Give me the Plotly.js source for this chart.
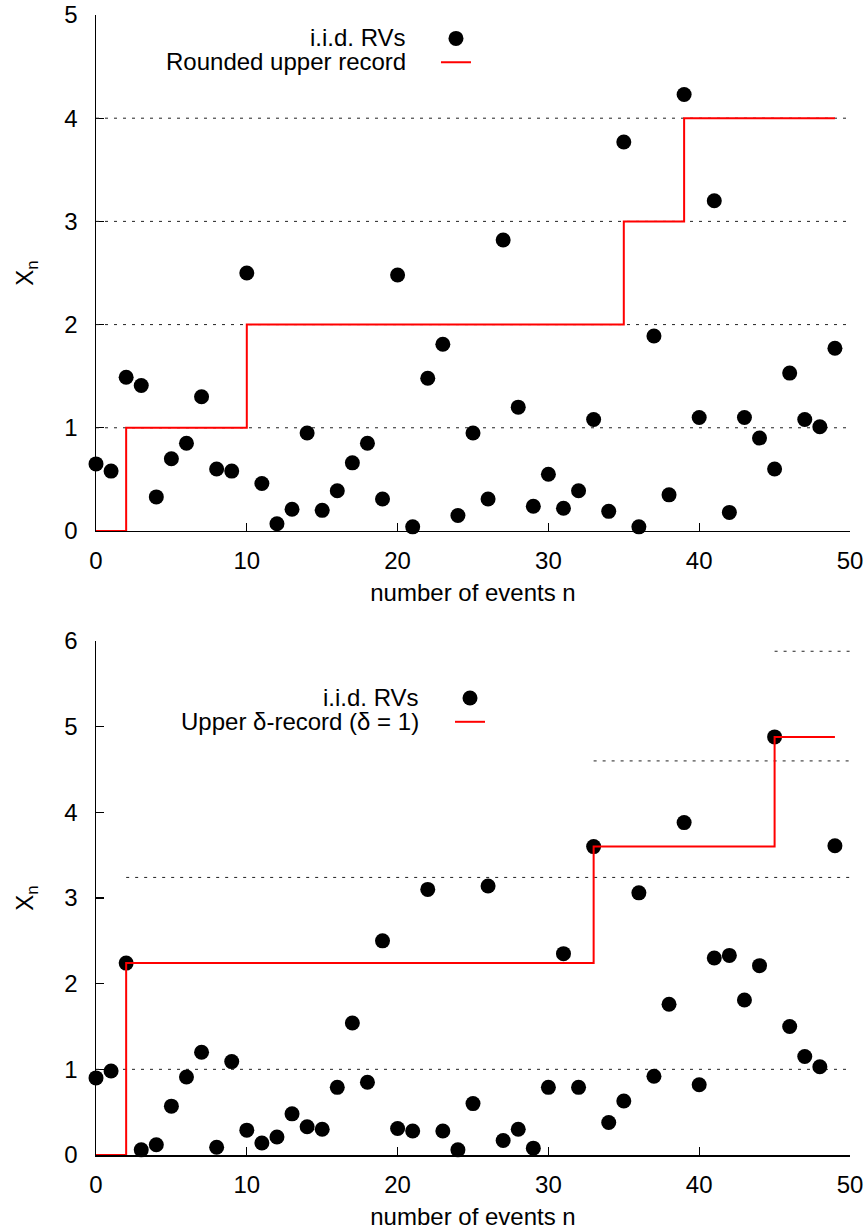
<!DOCTYPE html>
<html>
<head>
<meta charset="utf-8">
<script src="https://cdn.plot.ly/plotly-3.0.1.min.js"></script>
<style>html,body{margin:0;padding:0;background:#fff;}</style>
</head>
<body>
<div id="chart" style="width:867px;height:1230px;"></div>
<script>
// ---------- data ----------
const eventsN = Array.from({length: 50}, (_, i) => i);

const topValues = [0.65, 0.58, 1.49, 1.41, 0.33, 0.70, 0.85, 1.30, 0.60, 0.58,
                   2.50, 0.46, 0.07, 0.21, 0.95, 0.20, 0.39, 0.66, 0.85, 0.31,
                   2.48, 0.04, 1.48, 1.81, 0.15, 0.95, 0.31, 2.82, 1.20, 0.24,
                   0.55, 0.22, 0.39, 1.08, 0.19, 3.77, 0.04, 1.89, 0.35, 4.23,
                   1.10, 3.20, 0.18, 1.10, 0.90, 0.60, 1.53, 1.08, 1.01, 1.77];
const topRecordX = [0, 2, 10, 35, 39, 49];
const topRecordY = [0, 1, 2, 3, 4, 4];
const topGridLevels = [1, 2, 3, 4];

const bottomValues = [0.90, 0.98, 2.24, 0.06, 0.12, 0.57, 0.91, 1.20, 0.09, 1.09,
                      0.29, 0.14, 0.21, 0.48, 0.33, 0.30, 0.79, 1.54, 0.85, 2.50,
                      0.31, 0.28, 3.10, 0.28, 0.06, 0.60, 3.14, 0.17, 0.30, 0.08,
                      0.79, 2.35, 0.79, 3.60, 0.38, 0.63, 3.06, 0.92, 1.76, 3.88,
                      0.82, 2.30, 2.33, 1.81, 2.21, 4.88, 1.50, 1.15, 1.03, 3.61];
const bottomRecordX = [0, 2, 33, 45, 49];
const bottomRecordY = [0, 2.24, 3.60, 4.88, 4.88];
const bottomThreshStart = [0, 2, 33, 45];
const bottomThreshLevel = [1, 3.24, 4.60, 5.88];

const xMax = 50;
const legendTop = ['i.i.d. RVs', 'Rounded upper record'];
const legendBottom = ['i.i.d. RVs', 'Upper δ-record (δ = 1)'];

// ---------- traces ----------
const FONT = 'Liberation Sans, Arial, sans-serif';
const dashStyle = {color: '#222', width: 1, dash: '3px,6px'};
const traces = [];

topGridLevels.forEach(v => traces.push({
  x: [0, xMax], y: [v, v], xaxis: 'x', yaxis: 'y', mode: 'lines',
  line: dashStyle, showlegend: false, hoverinfo: 'skip'
}));
bottomThreshLevel.forEach((v, i) => traces.push({
  x: [bottomThreshStart[i], xMax], y: [v, v], xaxis: 'x2', yaxis: 'y2', mode: 'lines',
  line: dashStyle, showlegend: false, hoverinfo: 'skip'
}));

traces.push({
  x: eventsN, y: topValues, xaxis: 'x', yaxis: 'y', mode: 'markers', name: ' ',
  marker: {color: '#000', size: 15}, cliponaxis: false, legend: 'legend'
});
traces.push({
  x: topRecordX, y: topRecordY, xaxis: 'x', yaxis: 'y', mode: 'lines', name: ' ',
  line: {color: '#ff0000', width: 2, shape: 'hv'}, cliponaxis: false, legend: 'legend'
});
traces.push({
  x: eventsN, y: bottomValues, xaxis: 'x2', yaxis: 'y2', mode: 'markers', name: ' ',
  marker: {color: '#000', size: 15}, cliponaxis: false, legend: 'legend2'
});
traces.push({
  x: bottomRecordX, y: bottomRecordY, xaxis: 'x2', yaxis: 'y2', mode: 'lines', name: ' ',
  line: {color: '#ff0000', width: 2, shape: 'hv'}, cliponaxis: false, legend: 'legend2'
});

// ---------- layout ----------
function xAx(anchor) {
  return {
    anchor: anchor, domain: [0, 1], range: [0, xMax], dtick: 10, tick0: 0,
    showgrid: false, zeroline: false, showline: true, linecolor: '#000', linewidth: 1.5,
    ticks: 'inside', ticklen: 8, tickwidth: 1.2, tickcolor: '#000',
    ticklabelstandoff: 8, layer: 'below traces',
    tickfont: {family: FONT, size: 24, color: '#000'},
    title: {text: 'number of events n', font: {family: FONT, size: 24, color: '#000'}, standoff: 11}
  };
}
function yAx(anchor, dom, top) {
  return {
    anchor: anchor, domain: dom, range: [0, top], dtick: 1, tick0: 0,
    showgrid: false, zeroline: false, showline: true, linecolor: '#000', linewidth: 1.5,
    ticks: 'inside', ticklen: 8, tickwidth: 1.2, tickcolor: '#000',
    ticklabelstandoff: 12, layer: 'below traces',
    tickfont: {family: FONT, size: 24, color: '#000'},
    title: {text: 'X<sub>n</sub>', font: {family: FONT, size: 24, color: '#000'}, standoff: 24}
  };
}

const annFont = {family: FONT, size: 24, color: '#000'};
const layout = {
  width: 867, height: 1230,
  margin: {l: 96, r: 17, t: 15, b: 75},
  paper_bgcolor: '#fff', plot_bgcolor: '#fff',
  font: {family: FONT, color: '#000'},
  xaxis: xAx('y'),
  yaxis: yAx('x', [0.5474, 1], 5),
  xaxis2: xAx('y2'),
  yaxis2: yAx('x2', [0, 0.4509], 6),
  legend: {x: 0.4509, y: 0.9943, xanchor: 'left', yanchor: 'top', bgcolor: 'rgba(0,0,0,0)',
           borderwidth: 0, font: {family: FONT, size: 16}, tracegroupgap: 0},
  legend2: {x: 0.4695, y: 0.4157, xanchor: 'left', yanchor: 'top', bgcolor: 'rgba(0,0,0,0)',
            borderwidth: 0, font: {family: FONT, size: 16}, tracegroupgap: 0},
  annotations: [
    {xref: 'paper', yref: 'paper', x: 0.412, y: 1 - (37.7 - 15) / 1140, xanchor: 'right', yanchor: 'middle',
     text: legendTop[0], showarrow: false, font: annFont, borderpad: 0},
    {xref: 'paper', yref: 'paper', x: 0.412, y: 1 - (61 - 15) / 1140, xanchor: 'right', yanchor: 'middle',
     text: legendTop[1], showarrow: false, font: annFont, borderpad: 0},
    {xref: 'paper', yref: 'paper', x: 0.4297, y: 1 - (697.5 - 15) / 1140, xanchor: 'right', yanchor: 'middle',
     text: legendBottom[0], showarrow: false, font: annFont, borderpad: 0},
    {xref: 'paper', yref: 'paper', x: 0.4297, y: 1 - (721.7 - 15) / 1140, xanchor: 'right', yanchor: 'middle',
     text: legendBottom[1], showarrow: false, font: annFont, borderpad: 0}
  ]
};

Plotly.newPlot('chart', traces, layout, {displayModeBar: false, staticPlot: true});
</script>
</body>
</html>
